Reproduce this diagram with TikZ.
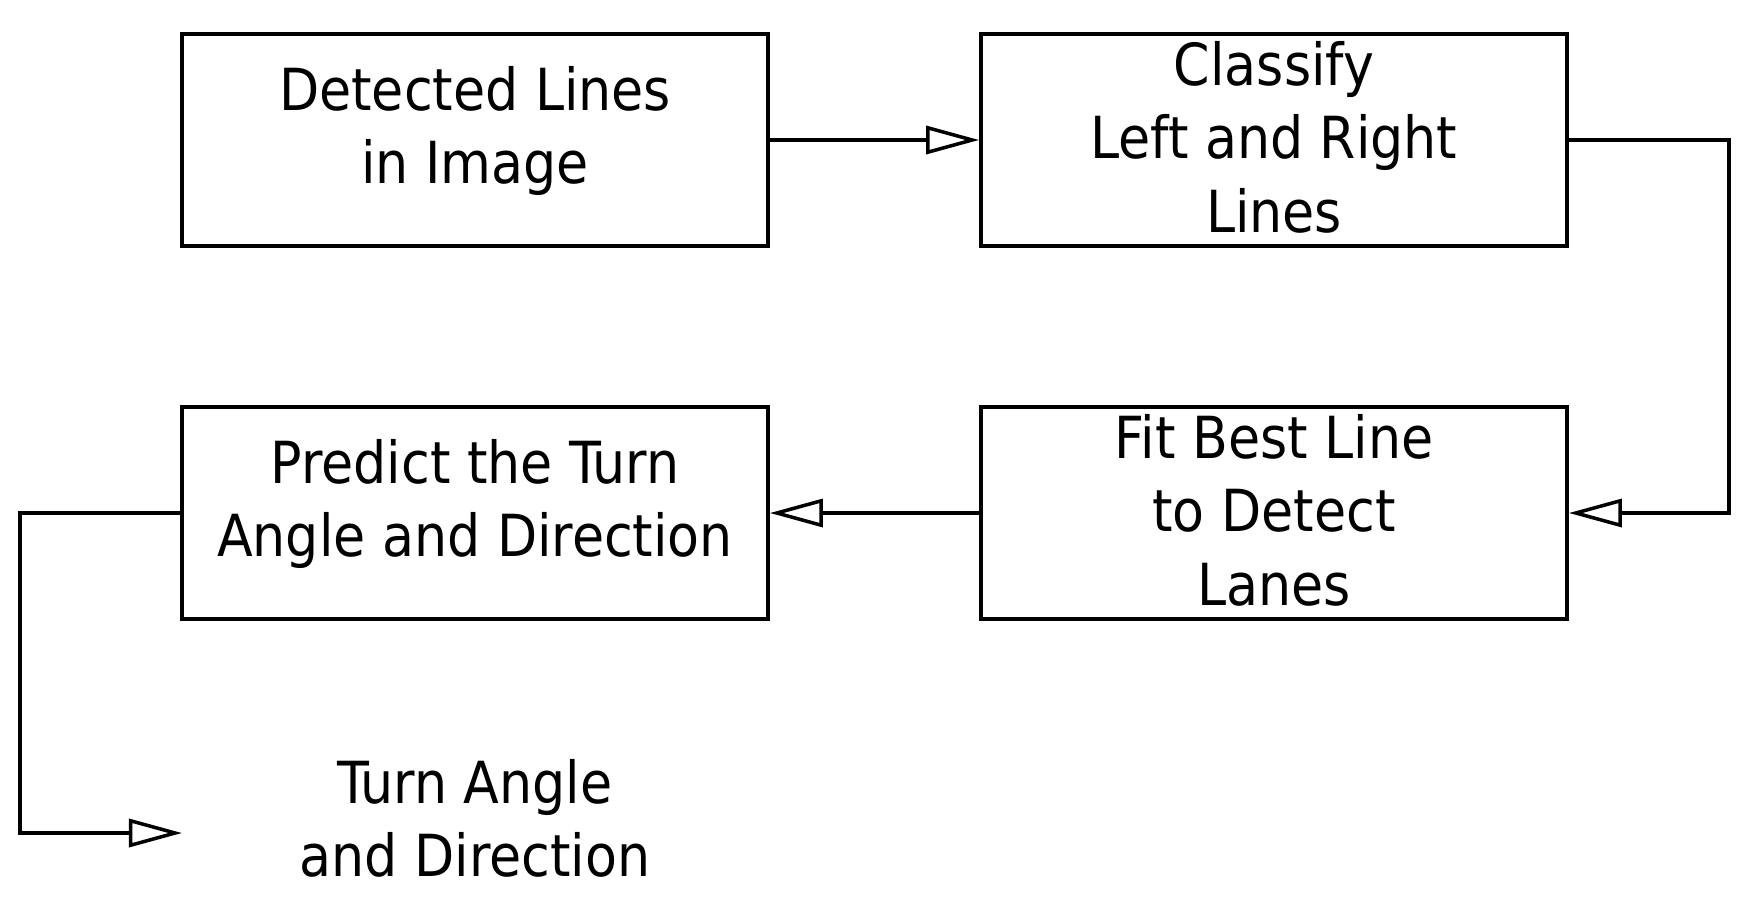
\documentclass[tikz,border=0pt]{standalone}
\usepackage{fontspec}
\setmainfont{DejaVu Sans Condensed}
\usetikzlibrary{arrows.meta}

\tikzset{
  block/.style={draw, line width=1pt, minimum width=5.86cm, minimum height=2.12cm,
                align=center, inner sep=0pt, font=\fontsize{16.5}{20.8}\selectfont},
  twoline/.style={text depth=8.8pt},
  threeline/.style={text depth=1.8pt},
  label/.style={align=center, inner sep=0pt, font=\fontsize{16.5}{20.8}\selectfont},
  flow/.style={line width=1pt, -{Triangle[open, length=0.53cm, width=0.28cm, line width=1pt]}}
}

\begin{document}
\begin{tikzpicture}[x=0.01cm,y=-0.01cm]
\useasboundingbox (0,0) rectangle (1740,915);

\node[block,twoline]   (detect)   at (475,140)  {Detected Lines\\in Image};
\node[block,threeline] (classify) at (1274,140) {Classify\\Left and Right\\Lines};
\node[block,threeline] (fit)      at (1274,513) {Fit Best Line\\to Detect\\Lanes};
\node[block,twoline]   (predict)  at (475,513)  {Predict the Turn\\Angle and Direction};
\node[label] (result)  at (475,818) {Turn Angle\\and Direction};
\coordinate (resulttip) at (182,833);

\draw[flow] (detect.east) -- (classify.west);
\draw[flow] (classify.east) -- ++(160,0) |- (fit.east);
\draw[flow] (fit.west) -- (predict.east);
\draw[flow] (predict.west) -- ++(-160,0) |- (resulttip);
\end{tikzpicture}
\end{document}
